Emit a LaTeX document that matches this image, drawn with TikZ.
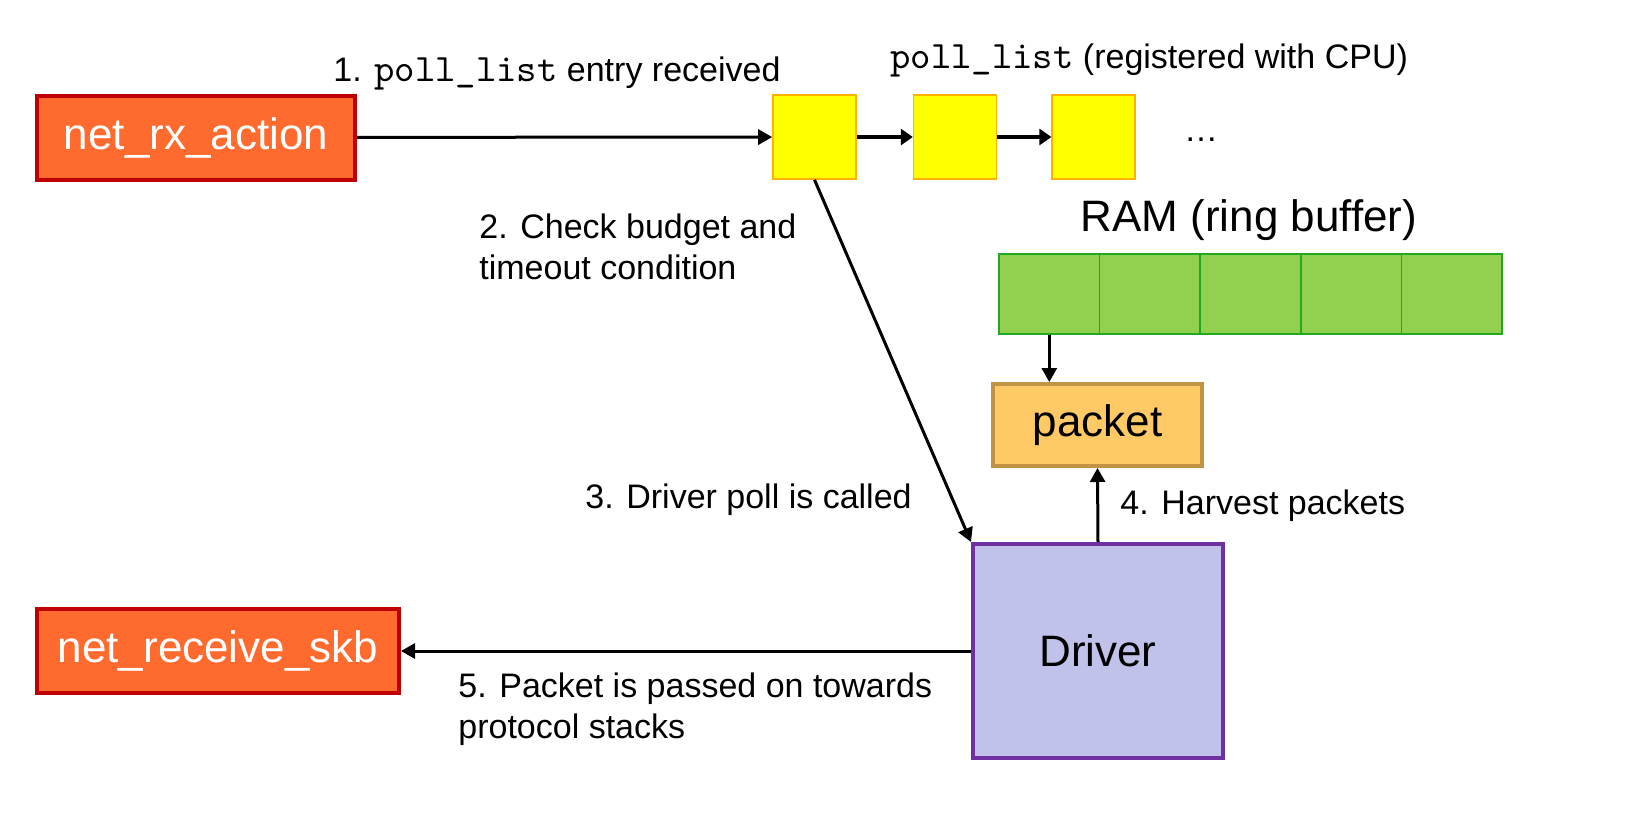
\documentclass[tikz,border=0pt]{standalone}
\usepackage{fontspec}
\setmainfont{Liberation Sans}
\setmonofont{lmmono10-regular.otf}[Scale=1.14]
\usepackage{xcolor}
\usetikzlibrary{positioning}
\usetikzlibrary{arrows.meta}
\definecolor{rxrot}{HTML}{FF6A2E}
\definecolor{rahmenrot}{HTML}{C00000}
\definecolor{listgelb}{HTML}{FFFF00}
\definecolor{listorange}{HTML}{FFB000}
\definecolor{ramgruen}{HTML}{92D050}
\definecolor{ramrahmen}{HTML}{22A822}
\definecolor{paketgelb}{HTML}{FFCA66}
\definecolor{paketrahmen}{HTML}{C09444}
\definecolor{treiberlila}{HTML}{C0C2E9}
\definecolor{treiberrahmen}{HTML}{7030A0}
\tikzset{
  Kasten/.style={draw, line width=2pt, inner sep=0pt, font=\fontsize{22}{26}\selectfont}, % für Kästen mit Text
  Funktion/.style={Kasten, draw=rahmenrot, fill=rxrot, text=white, minimum height=42pt}, % für Kernelfunktionen
  Eintrag/.style={draw=listorange, fill=listgelb, line width=.8pt, minimum width=41.5pt, minimum height=42pt}, % für poll_list
  Zelle/.style={draw=ramrahmen, fill=ramgruen, line width=.8pt, minimum width=50.3pt, minimum height=40pt}, % für Ringpuffer
  Text/.style={font=\fontsize{17}{20.5}\selectfont, inner sep=0pt, anchor=west, align=left}, % für Beschriftungen
  Pfeil/.style={line width=1.5pt,->}, % für Pfeile
  DickPfeil/.style={line width=2.2pt,-{Triangle[length=6pt,width=8pt]}} % für Listenpfeile
}
\begin{document}
\begin{tikzpicture}[x=0.5pt, y=-0.5pt,
>={Triangle[length=7pt,width=7.5pt]} % Voreinstellung für Pfeilspitzen
]
\useasboundingbox (0,0) rectangle (1635,826);

%Kästen
\node[Funktion, minimum width=159pt] (rx) at (196,137.5) {net\_rx\_action};
\node[Funktion, minimum width=181pt] (skb) at (218,651) {net\_receive\_skb};

\node[Eintrag] (L1) at (814.5,137) {};
\node[Eintrag, right=28pt of L1] (L2) {};
\node[Eintrag, right=27pt of L2] (L3) {};
\node[font=\fontsize{17}{20.5}\selectfont] (punkte) at (1201,140) {\dots};

\foreach \i in {1,...,5}
  \node[Zelle] (R\i) at ({999+100.6*(\i-0.5)},294) {};
\node[font=\fontsize{22}{26}\selectfont] (ram) at (1249,220) {RAM (ring buffer)};

\node[Kasten, draw=paketrahmen, fill=paketgelb, minimum width=104.5pt, minimum height=41pt] (pkt) at (1097.5,425) {packet};
\node[Kasten, draw=treiberrahmen, fill=treiberlila, minimum width=125pt, minimum height=107pt] (drv) at (1098,651) {Driver};

%Pfeile
\draw[Pfeil] (rx) -- (L1);
\draw[DickPfeil] (L1) -- (L2);
\draw[DickPfeil] (L2) -- (L3);
\draw[Pfeil] (L1.south) -- (drv.north west);
\draw[Pfeil] (R1.south) -- (R1.south |- pkt.north);
\draw[Pfeil] (drv.north) -- (pkt.south);
\draw[Pfeil] (drv.west) -- (skb.east);

%Beschriftungen
\node[Text] (t1) at (333,73) {1. \texttt{poll\_list} entry received};
\node[Text] (tliste) at (890,60) {\texttt{poll\_list} (registered with CPU)};
\node[Text] (t2) at (479,247) {2. Check budget and\\timeout condition};
\node[Text] (t3) at (585,500) {3. Driver poll is called};
\node[Text] (t4) at (1120,506) {4. Harvest packets};
\node[Text] (t5) at (458,709) {5. Packet is passed on towards\\protocol stacks};

\end{tikzpicture}
\end{document}
